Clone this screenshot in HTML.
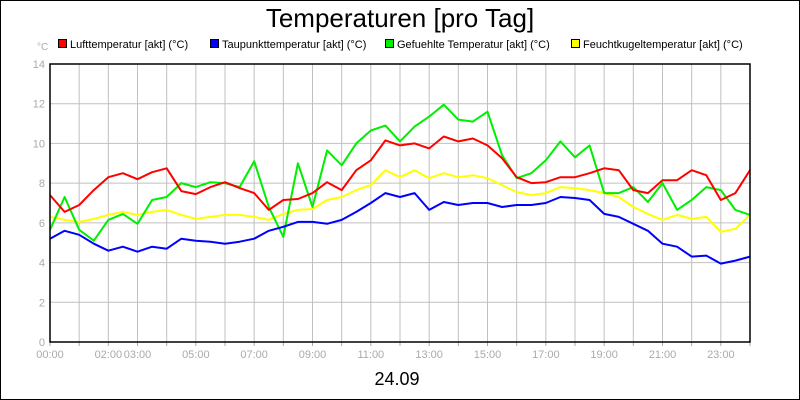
<!DOCTYPE html>
<html><head><meta charset="utf-8"><style>
body{margin:0;background:#fff}
svg{display:block;font-family:"Liberation Sans",sans-serif}
</style></head><body>
<svg id="c" width="800" height="400">
<rect x="0.5" y="0.5" width="799" height="399" fill="#fff" stroke="#000"/>
<text x="400" y="27" font-size="26" text-anchor="middle">Temperaturen [pro Tag]</text>
<text x="37" y="50" font-size="10" fill="#aaa">°C</text>
<g id="legend" font-size="11"></g>
<g id="grid"></g><g id="series"></g><g id="axes"></g>
<text x="397" y="385" font-size="18" text-anchor="middle">24.09</text>
</svg>
<script>
const seriesNames=["Lufttemperatur [akt] (°C)","Taupunkttemperatur [akt] (°C)","Gefuehlte Temperatur [akt] (°C)","Feuchtkugeltemperatur [akt] (°C)"];
const seriesColors=["#ff0000","#0000ff","#00ee00","#ffff00"];
const yTicks=[0,2,4,6,8,10,12,14];
const xTickLabels=["00:00","02:00","03:00","05:00","07:00","09:00","11:00","13:00","15:00","17:00","19:00","21:00","23:00"];
const xTickHours=[0,2,3,5,7,9,11,13,15,17,19,21,23];
// half-hour samples 0:00..24:00
const luft=[7.4,6.55,6.9,7.65,8.3,8.5,8.2,8.55,8.75,7.6,7.45,7.8,8.05,7.75,7.5,6.65,7.15,7.2,7.5,8.05,7.65,8.65,9.15,10.15,9.9,10.0,9.75,10.35,10.1,10.25,9.9,9.25,8.3,8.0,8.05,8.3,8.3,8.5,8.75,8.65,7.65,7.5,8.15,8.15,8.65,8.4,7.15,7.5,8.65];
const taupunkt=[5.2,5.6,5.4,4.95,4.6,4.8,4.55,4.8,4.7,5.2,5.1,5.05,4.95,5.05,5.2,5.6,5.8,6.05,6.05,5.95,6.15,6.55,7.0,7.5,7.3,7.5,6.65,7.05,6.9,7.0,7.0,6.8,6.9,6.9,7.0,7.3,7.25,7.15,6.45,6.3,5.95,5.6,4.95,4.8,4.3,4.35,3.95,4.1,4.3];
const gefuehlt=[5.65,7.3,5.65,5.1,6.15,6.45,5.95,7.15,7.3,8.0,7.8,8.05,8.0,7.8,9.1,6.8,5.3,9.0,6.8,9.65,8.9,10.0,10.65,10.9,10.1,10.85,11.35,11.95,11.2,11.1,11.6,9.4,8.25,8.5,9.15,10.1,9.3,9.9,7.5,7.5,7.8,7.05,8.0,6.65,7.15,7.8,7.65,6.65,6.4];
const feucht=[6.3,6.15,6.05,6.2,6.4,6.55,6.4,6.55,6.65,6.4,6.2,6.3,6.4,6.4,6.3,6.15,6.45,6.65,6.7,7.15,7.3,7.65,7.9,8.65,8.3,8.65,8.25,8.5,8.3,8.4,8.25,7.9,7.55,7.4,7.5,7.8,7.75,7.65,7.5,7.3,6.8,6.45,6.15,6.4,6.2,6.3,5.55,5.7,6.4];
const X0=50,X1=750,Y0=342,Y1=64;
const xs=h=>X0+(X1-X0)*h/24;
const ys=v=>Y0-(Y0-Y1)*v/14;
const NS="http://www.w3.org/2000/svg";
function mk(t,a,p){const e=document.createElementNS(NS,t);for(const k in a)e.setAttribute(k,a[k]);p.appendChild(e);return e;}
const grid=document.getElementById('grid'),axes=document.getElementById('axes'),ser=document.getElementById('series'),leg=document.getElementById('legend');
for(let h=1;h<24;h++){const l=mk('line',{x1:xs(h),x2:xs(h),y1:Y1,y2:Y0,stroke:'#c0c0c0'},grid);

}
yTicks.forEach(v=>{if(v>0&&v<14){const l=mk('line',{x1:X0,x2:X1,y1:ys(v),y2:ys(v),stroke:'#c0c0c0'},grid);

}
const t=mk('text',{x:X0-5,y:ys(v)+4,'font-size':11,fill:'#aaa','text-anchor':'end'},axes);t.textContent=v;

});
for(let h=0;h<=24;h++){const l=mk('line',{x1:xs(h),x2:xs(h),y1:Y0,y2:Y0+4,stroke:'#aaa'},axes);

}
xTickLabels.forEach((s,i)=>{const t=mk('text',{x:xs(xTickHours[i]),y:Y0+16,'font-size':11,fill:'#aaa','text-anchor':'middle'},axes);t.textContent=s;

});
const fr=mk('rect',{x:X0,y:Y1,width:X1-X0,height:Y0-Y1,fill:'none',stroke:'#000','stroke-width':1.5},axes);


const data=[luft,taupunkt,gefuehlt,feucht];
const order=[3,2,1,0];
order.forEach(i=>{const pts=data[i].map((v,k)=>xs(k*24/(data[i].length-1)).toFixed(1)+','+ys(v).toFixed(1)).join(' ');
const p=mk('polyline',{points:pts,fill:'none',stroke:seriesColors[i],'stroke-width':2,'stroke-linejoin':'round'},ser);

});
const lx=[58,210,385,571];
seriesNames.forEach((n,i)=>{const g=mk('g',{},leg);


mk('rect',{x:lx[i]+0.5,y:39.5,width:8,height:8,fill:seriesColors[i],stroke:'#000'},g);
const t=mk('text',{x:lx[i]+12,y:48},g);t.textContent=n;});
</script>
</body></html>
